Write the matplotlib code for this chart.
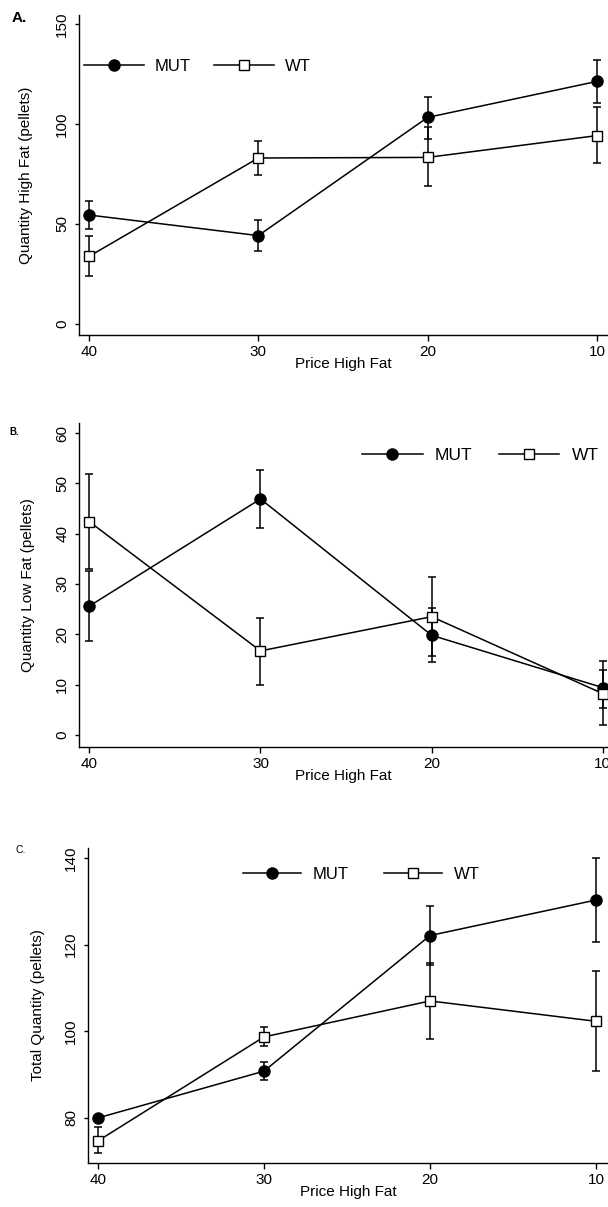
import matplotlib
matplotlib.use("Agg")
import matplotlib.pyplot as plt
import numpy as np

plt.rcParams['font.family'] = ['Liberation Sans', 'DejaVu Sans']

# ---------------- data ----------------
price = [40, 30, 20, 10]
price_labels = ["40", "30", "20", "10"]

# Panel A: Quantity High Fat
a_mut = [54.5, 44.2, 103.3, 121.3]
a_mut_lo = [47.5, 36.7, 92.5, 110.3]
a_mut_hi = [61.3, 52.0, 113.3, 132.2]
a_wt = [33.8, 83.0, 83.3, 94.2]
a_wt_lo = [24.2, 74.5, 69.2, 80.3]
a_wt_hi = [43.8, 91.7, 98.3, 108.3]
a_yticks = [0, 50, 100, 150]

# Panel B: Quantity Low Fat
b_mut = [25.6, 46.9, 19.8, 9.4]
b_mut_lo = [18.7, 41.1, 14.4, 5.4]
b_mut_hi = [32.6, 52.7, 25.3, 13.0]
b_wt = [42.4, 16.7, 23.5, 8.2]
b_wt_lo = [32.9, 10.0, 15.7, 2.0]
b_wt_hi = [51.8, 23.2, 31.4, 14.6]
b_yticks = [0, 10, 20, 30, 40, 50, 60]

# Panel C: Total Quantity
c_mut = [80.0, 90.8, 122.1, 130.3]
c_mut_lo = [79.6, 88.7, 115.2, 120.5]
c_mut_hi = [80.4, 92.9, 129.0, 140.1]
c_wt = [74.7, 98.7, 107.0, 102.3]
c_wt_lo = [71.9, 96.6, 98.2, 90.8]
c_wt_hi = [77.8, 101.0, 115.8, 113.8]
c_yticks = [80, 100, 120, 140]

series_names = ["MUT", "WT"]

W, H = 608, 1207
fig = plt.figure(figsize=(W / 100, H / 100), dpi=100)


def ax_px(left, top, right, bottom):
    return fig.add_axes([left / W, 1 - bottom / H, (right - left) / W, (bottom - top) / H])


def draw(ax, mut, mlo, mhi, wt, wlo, whi, yticks, ylim, xlim, ylabel, leg_anchor, leg_fs,
         handlelen, textpad, colspace, ylabel_x):
    mut = np.array(mut); wt = np.array(wt)
    merr = [mut - np.array(mlo), np.array(mhi) - mut]
    werr = [wt - np.array(wlo), np.array(whi) - wt]
    ax.errorbar(price, mut, yerr=merr, fmt='none', ecolor='black', elinewidth=1.1,
                capsize=3.0, capthick=1.1, zorder=2)
    ax.errorbar(price, wt, yerr=werr, fmt='none', ecolor='black', elinewidth=1.1,
                capsize=3.0, capthick=1.1, zorder=2)
    l1, = ax.plot(price, mut, color='black', lw=1.1, marker='o', ms=8,
                  mfc='black', mec='black', zorder=3, label=series_names[0])
    l2, = ax.plot(price, wt, color='black', lw=1.1, marker='s', ms=7.5,
                  mfc='white', mec='black', mew=1.0, zorder=4, label=series_names[1])
    ax.set_xlim(*xlim)
    ax.set_ylim(*ylim)
    ax.set_xticks(price)
    ax.set_xticklabels(price_labels)
    ax.set_yticks(yticks)
    ax.set_yticklabels([str(v) for v in yticks])
    for s in ['top', 'right']:
        ax.spines[s].set_visible(False)
    for s in ['left', 'bottom']:
        ax.spines[s].set_linewidth(1.0)
    ax.tick_params(axis='x', length=4, width=1.0, pad=3, labelsize=11)
    ax.tick_params(axis='y', length=3, width=1.0, pad=4, labelsize=11, labelrotation=90)
    for lab in ax.get_yticklabels():
        lab.set_va('center')
    ax.set_xlabel("Price High Fat", fontsize=11, labelpad=-1)
    ax.set_ylabel(ylabel, fontsize=11)
    ax.yaxis.set_label_coords(ylabel_x, 0.5)
    ax.legend(handles=[l1, l2], loc='center left', bbox_to_anchor=leg_anchor, ncol=2,
              frameon=False, fontsize=leg_fs, handlelength=handlelen, handletextpad=textpad,
              columnspacing=colspace, borderpad=0, borderaxespad=0, numpoints=1)


axA = ax_px(79, 15, 608, 335)
draw(axA, a_mut, a_mut_lo, a_mut_hi, a_wt, a_wt_lo, a_wt_hi, a_yticks, (-5.5, 154.5),
     (40.59, 9.35), "Quantity High Fat (pellets)", (0.0095, 0.8406), 12, 3.6, 0.65, 1.4, -0.087)

axB = ax_px(79, 423, 608, 747)
draw(axB, b_mut, b_mut_lo, b_mut_hi, b_wt, b_wt_lo, b_wt_hi, b_yticks, (-2.4, 62.0),
     (40.6, 9.7), "Quantity Low Fat (pellets)", (0.535, 0.901), 12.5, 3.5, 0.7, 1.5, -0.083)

axC = ax_px(88, 848, 608, 1163)
draw(axC, c_mut, c_mut_lo, c_mut_hi, c_wt, c_wt_lo, c_wt_hi, c_yticks, (69.6, 142.3),
     (40.6, 9.28), "Total Quantity (pellets)", (0.298, 0.917), 12, 3.5, 0.7, 2.1, -0.083)

fig.text(12 / W, 1 - 18 / H, "A.", fontsize=11, fontweight='bold', va='center', ha='left')
fig.text(9 / W, 1 - 432 / H, "B.", fontsize=7, fontweight='bold', va='center', ha='left')
fig.text(16 / W, 1 - 850 / H, "C.", fontsize=7.5, va='center', ha='left')

fig.savefig("out.png", dpi=100)
